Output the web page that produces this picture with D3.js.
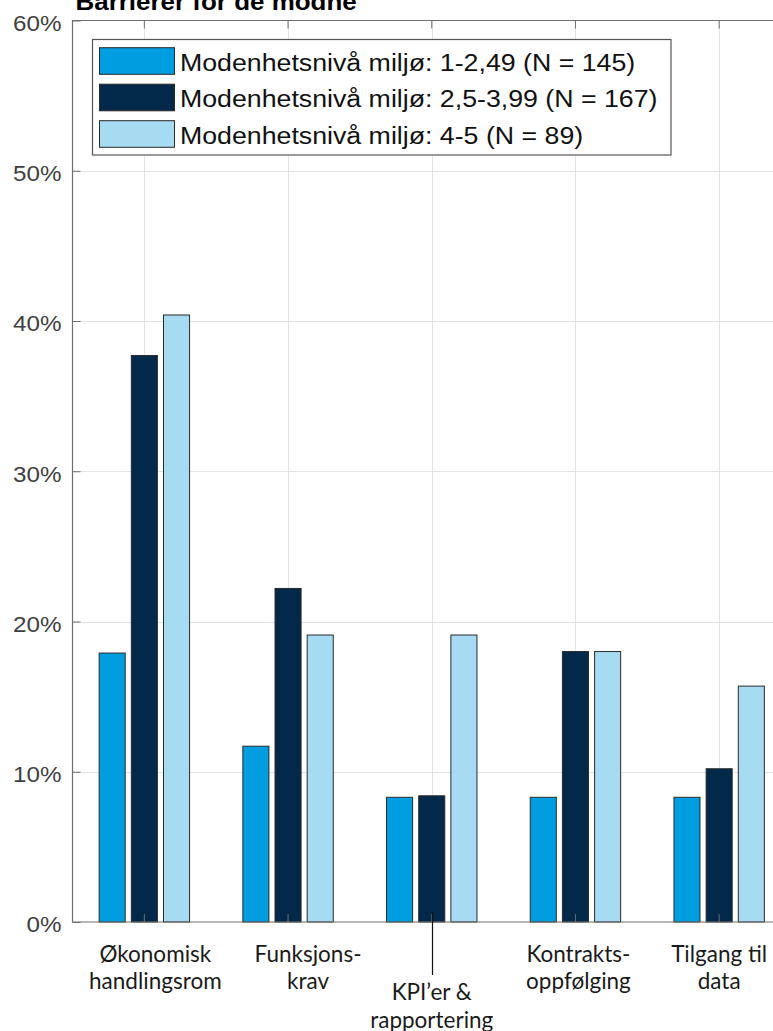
<!DOCTYPE html>
<html>
<head>
<meta charset="utf-8">
<script src="https://cdn.jsdelivr.net/npm/d3@7"></script>
<style>
  body { margin: 0; background: #fff; }
  svg { display: block; }
</style>
</head>
<body>
<div class="chart"></div>
<script>
// chart values
var categories = ["Økonomisk\nhandlingsrom", "Funksjons-\nkrav", "KPI’er &\nrapportering", "Kontrakts-\noppfølging", "Tilgang til\ndata"];
var seriesNames = ["Modenhetsnivå miljø: 1-2,49 (N = 145)", "Modenhetsnivå miljø: 2,5-3,99 (N = 167)", "Modenhetsnivå miljø: 4-5 (N = 89)"];
var lowValues = [17.9, 11.7, 8.3, 8.3, 8.3];
var midValues = [37.7, 22.2, 8.4, 18.0, 10.2];
var highValues = [40.4, 19.1, 19.1, 18.0, 15.7];
var yTicks = [0, 10, 20, 30, 40, 50, 60];
var seriesColors = ["#009ee0", "#03294a", "#a7dbf2"];

var svgWidth = 773;
var svgHeight = 1031;

// plot box (right edge runs past the picture, like the original)
// note: can't call it "top", that clashes with window.top
var box = { left: 72.5, right: 791, top: 20.5, bottom: 922 };

var svg = d3.select(".chart")
  .append("svg")
  .attr("width", svgWidth)
  .attr("height", svgHeight);

svg.append("rect")
  .attr("width", svgWidth)
  .attr("height", svgHeight)
  .attr("fill", "#fff");

var series = [lowValues, midValues, highValues];
var data = categories.map(function (c, i) {
  return { cat: c, values: series.map(function (s, k) { return { k: k, v: s[i] }; }) };
});

var x0 = d3.scaleBand()
  .domain(categories)
  .range([box.left, box.right]);

var x1 = d3.scaleBand()
  .domain([0, 1, 2])
  .range([-45.2, 45.2])
  .paddingInner(0.19);

var y = d3.scaleLinear()
  .domain([0, 60])
  .range([box.bottom, box.top]);

function cx(c) { return x0(c) + x0.bandwidth() / 2; }

// grid
var grid = svg.append("g").attr("stroke", "#e3e3e3").attr("stroke-width", 1);
grid.selectAll("line.h")
  .data(yTicks.slice(1, -1))
  .enter().append("line")
  .attr("x1", box.left).attr("x2", box.right)
  .attr("y1", d => Math.round(y(d)) + 0.5)
  .attr("y2", d => Math.round(y(d)) + 0.5);
grid.selectAll("line.v")
  .data(categories)
  .enter().append("line")
  .attr("x1", d => Math.round(cx(d)) + 0.5)
  .attr("x2", d => Math.round(cx(d)) + 0.5)
  .attr("y1", box.top).attr("y2", box.bottom);

// bars
var groups = svg.selectAll("g.group")
  .data(data)
  .enter().append("g")
  .attr("class", "group")
  .attr("transform", d => `translate(${cx(d.cat)},0)`);

groups.selectAll("rect")
  .data(d => d.values)
  .enter().append("rect")
  .attr("x", d => x1(d.k))
  .attr("width", x1.bandwidth())
  .attr("y", d => y(d.v))
  .attr("height", d => box.bottom - y(d.v))
  .attr("fill", d => seriesColors[d.k])
  .attr("stroke", "#2a2a2a")
  .attr("stroke-width", 1);

// axes
var axisColor = "#6e6e6e";

var leftAxis = d3.axisLeft(y)
  .tickValues(yTicks)
  .tickFormat(d => d + "%")
  .tickSize(-8)
  .tickPadding(11);

var yAxis = svg.append("g")
  .attr("transform", `translate(${box.left},0)`)
  .call(leftAxis);
yAxis.select(".domain").remove();
yAxis.selectAll("line").attr("stroke", axisColor);
yAxis.selectAll("text")
  .attr("font-family", "'Liberation Sans', Arial, sans-serif")
  .attr("font-size", 22)
  .attr("fill", "#404040")
  .attr("dy", "0.45em")
  .attr("x", -11 / 1.1)
  .attr("transform", "scale(1.1,1)");

var bottomAxis = d3.axisBottom(x0).tickFormat("").tickSize(-8).tickSizeOuter(0);
var xAxis = svg.append("g")
  .attr("transform", `translate(0,${box.bottom})`)
  .call(bottomAxis);
xAxis.select(".domain").remove();
xAxis.selectAll("line").attr("stroke", axisColor);

var topAxis = d3.axisTop(x0).tickFormat("").tickSize(-8).tickSizeOuter(0);
var tAxis = svg.append("g")
  .attr("transform", `translate(0,${box.top})`)
  .call(topAxis);
tAxis.select(".domain").remove();
tAxis.selectAll("line").attr("stroke", axisColor);

// box lines
svg.append("path")
  .attr("d", `M${box.right},${box.top}H${box.left}V${box.bottom}H${box.right}`)
  .attr("fill", "none")
  .attr("stroke", axisColor)
  .attr("stroke-width", 1.2);

// category labels (hand placed text boxes in the original)
var labelShift = [11, 20, 0, 3, 0];
var labelBase = [961.5, 961.5, 1000, 961.5, 961.5];

var labels = svg.selectAll("text.cat")
  .data(categories)
  .enter().append("text")
  .attr("class", "cat")
  .attr("text-anchor", "middle")
  .attr("font-family", "Lato, 'Open Sans', sans-serif")
  .attr("font-size", 22.5)
  .attr("fill", "#1a1a1a");

labels.selectAll("tspan")
  .data((d, i) => d.split("\n").map(t => ({ t: t, i: i, c: d })))
  .enter().append("tspan")
  .attr("x", d => cx(d.c) + labelShift[d.i])
  .attr("y", (d, j) => labelBase[d.i] + j * 27.5)
  .text(d => d.t);

// pointer from the KPI label up into its bar
svg.append("line")
  .attr("x1", Math.round(cx(categories[2])) + 0.5)
  .attr("x2", Math.round(cx(categories[2])) + 0.5)
  .attr("y1", 912)
  .attr("y2", 975)
  .attr("stroke", "#111")
  .attr("stroke-width", 1.2);

// legend
var legend = svg.append("g");
legend.append("rect")
  .attr("x", 92.5).attr("y", 39.5)
  .attr("width", 578.5).attr("height", 115.5)
  .attr("fill", "#fff")
  .attr("stroke", "#555")
  .attr("stroke-width", 1.2);

var rows = legend.selectAll("g.row")
  .data(seriesNames)
  .enter().append("g")
  .attr("class", "row")
  .attr("transform", (d, i) => `translate(0,${61 + i * 36.5})`);

rows.append("rect")
  .attr("x", 99.5).attr("y", -13.3)
  .attr("width", 75).attr("height", 26.6)
  .attr("fill", (d, i) => seriesColors[i])
  .attr("stroke", "#2a2a2a")
  .attr("stroke-width", 1);

rows.append("text")
  .attr("transform", "translate(180,9.7) scale(1.1,1)")
  .attr("font-family", "'Liberation Sans', Arial, sans-serif")
  .attr("font-size", 24.3)
  .attr("fill", "#111")
  .text(d => d);

// title, cut off at the top of the picture
svg.append("text")
  .attr("transform", "translate(75.5,10) scale(1.1,1)")
  .attr("font-family", "'Liberation Sans', Arial, sans-serif")
  .attr("font-weight", "bold")
  .attr("font-size", 23.6)
  .attr("fill", "#000")
  .text("Barrierer for de modne");
</script>
</body>
</html>
